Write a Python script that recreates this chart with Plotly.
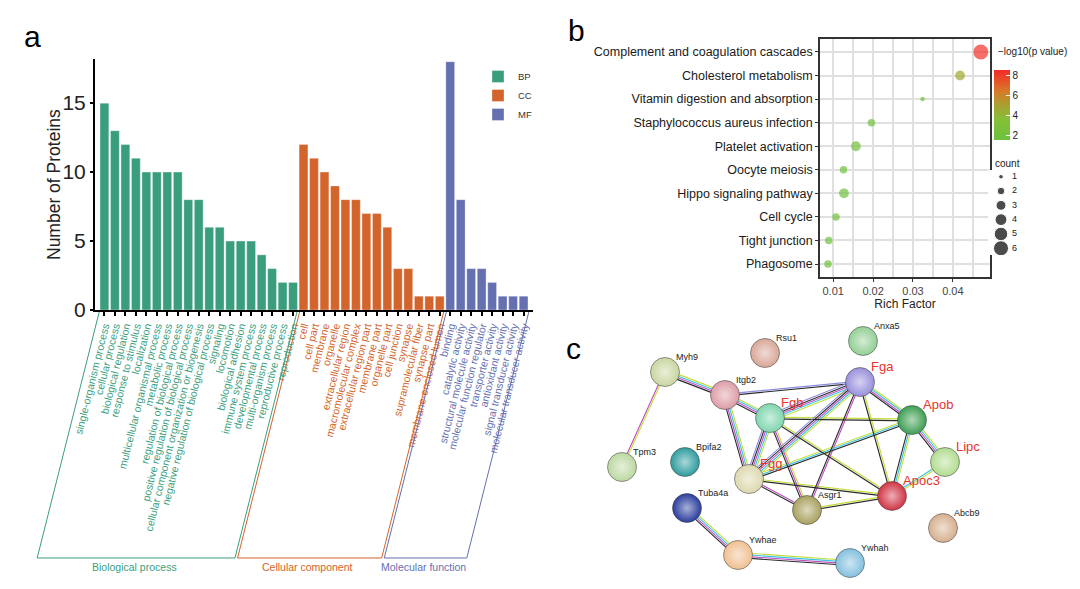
import numpy as np
import plotly.graph_objects as go

W, H = 1080, 589

# ---------------- Panel a : GO classification ----------------
bp_terms = ["single-organism process", "cellular process", "biological regulation",
            "response to stimulus", "localization", "multicellular organismal process",
            "metabolic process", "regulation of biological process",
            "positive regulation of biological process",
            "cellular component organization or biogenesis",
            "negative regulation of biological process", "signaling", "locomotion",
            "biological adhesion", "immune system process", "developmental process",
            "multi-organism process", "reproductive process", "reproduction"]
bp_counts = [15, 13, 12, 11, 10, 10, 10, 10, 8, 8, 6, 6, 5, 5, 5, 4, 3, 2, 2]

cc_terms = ["cell", "cell part", "membrane", "organelle", "extracellular region",
            "macromolecular complex", "extracellular region part", "membrane part",
            "organelle part", "cell junction", "synapse", "supramolecular fiber",
            "synapse part", "membrane-enclosed lumen"]
cc_counts = [12, 11, 10, 9, 8, 8, 7, 7, 6, 3, 3, 1, 1, 1]

mf_terms = ["binding", "catalytic activity", "structural molecule activity",
            "molecular function regulator", "transporter activity", "antioxidant activity",
            "signal transducer activity", "molecular transducer activity"]
mf_counts = [18, 8, 3, 3, 2, 1, 1, 1]

group_names = ["BP", "CC", "MF"]
group_titles = ["Biological process", "Cellular component", "Molecular function"]
group_colors = ["#3a9e7e", "#d2642c", "#6570b0"]

# ---------------- Panel b : KEGG enrichment ----------------
kegg_terms = ["Complement and coagulation cascades", "Cholesterol metabolism",
              "Vitamin digestion and absorption", "Staphylococcus aureus infection",
              "Platelet activation", "Oocyte meiosis", "Hippo signaling pathway",
              "Cell cycle", "Tight junction", "Phagosome"]
rich_factor = [0.0470, 0.0418, 0.0324, 0.0196, 0.0157, 0.0126, 0.0127, 0.0107, 0.0089, 0.0087]
neg_log_p = [8.3, 4.6, 2.3, 2.0, 2.1, 1.9, 1.9, 1.8, 1.7, 1.7]
gene_count = [6, 3, 1, 2, 3, 2, 3, 2, 2, 2]
legend_counts = [1, 2, 3, 4, 5, 6]

# ---------------- Panel c : PPI network ----------------
node_names = ["Anxa5", "Rsu1", "Myh9", "Itgb2", "Fga", "Fgb", "Apob", "Lipc", "Tpm3",
              "Bpifa2", "Fgg", "Apoc3", "Asgr1", "Tuba4a", "Abcb9", "Ywhae", "Ywhah"]
node_x = [863, 765, 665, 725, 860, 770, 912, 945, 622, 685, 749, 892, 807, 687, 943, 738, 850]
node_y = [341, 353, 372, 395, 382, 418, 420, 462, 467, 462, 479, 496, 510, 508, 528, 555, 563]
node_colors = ["#93cf95", "#d8a696", "#c8d6a0", "#dc9ca6", "#9890dc", "#7fd6ae", "#3c9e52",
               "#b2dc90", "#bcd8a2", "#2e9c9e", "#dcd8ae", "#d03444", "#a8a05e", "#2a3c9c",
               "#d6b08e", "#f0c090", "#84c0de"]
highlighted = ["Fga", "Fgb", "Apob", "Lipc", "Fgg", "Apoc3"]

TM, DB, EX, CO, BL = "#c4de3a", "#3cc4e4", "#c04cc4", "#2a2a2a", "#8c8ce0"
edges = [
    ("Myh9", "Tpm3", [TM, EX]),
    ("Myh9", "Itgb2", [TM, DB, EX, CO]),
    ("Itgb2", "Fga", [BL, CO]),
    ("Itgb2", "Fgb", [TM, DB, EX, CO]),
    ("Itgb2", "Fgg", [TM, DB, EX, CO]),
    ("Fga", "Fgb", [TM, DB, EX, CO, BL]),
    ("Fga", "Fgg", [TM, DB, EX, CO, BL]),
    ("Fga", "Apob", [TM, DB, EX, CO]),
    ("Fga", "Asgr1", [EX, CO]),
    ("Fga", "Apoc3", [TM, CO]),
    ("Fgb", "Fgg", [TM, DB, EX, CO, BL]),
    ("Fgb", "Apob", [TM, CO]),
    ("Fgb", "Asgr1", [TM, EX, CO]),
    ("Fgb", "Apoc3", [TM, CO]),
    ("Fgg", "Apob", [TM, DB, CO]),
    ("Fgg", "Asgr1", [EX, CO]),
    ("Fgg", "Apoc3", [TM, CO]),
    ("Apob", "Apoc3", [TM, DB, CO]),
    ("Apob", "Lipc", [TM, DB, EX, CO]),
    ("Lipc", "Apoc3", [TM, DB]),
    ("Asgr1", "Apoc3", [TM, CO]),
    ("Tuba4a", "Ywhae", [TM, DB, EX, CO]),
    ("Ywhae", "Ywhah", [TM, DB, EX, CO]),
]

FONT = "Liberation Sans, Arial, sans-serif"


def px(xp):
    return xp / W


def py(yp):
    return 1 - yp / H


fig = go.Figure()

# ---- panel a bars ----
all_terms = bp_terms + cc_terms + mf_terms
groups = [(bp_terms, bp_counts), (cc_terms, cc_counts), (mf_terms, mf_counts)]
start = 0
bounds = []
tick_text = []
for (terms, counts), name, col in zip(groups, group_names, group_colors):
    xs = list(range(start, start + len(terms)))
    fig.add_trace(go.Bar(x=xs, y=counts, name=name, marker=dict(color=col,
                         line=dict(color="rgba(255,255,255,0.55)", width=0.6)),
                         xaxis="x", yaxis="y", showlegend=True))
    tick_text += ['<span style="color:%s">%s</span>' % (col, t) for t in terms]
    bounds.append((start - 0.5, start + len(terms) - 0.5))
    start += len(terms)

n_bars = len(all_terms)
xa_range = [-0.9, n_bars - 0.1]
xa_dom = [95, 533]


def xa_px(v):
    return xa_dom[0] + (v - xa_range[0]) / (xa_range[1] - xa_range[0]) * (xa_dom[1] - xa_dom[0])


# brackets
top_y, bot_y, shift = 312, 558, 62
shapes = []
annotations = []
for i, ((lo, hi), col, title) in enumerate(zip(bounds, group_colors, group_titles)):
    lt = xa_px(lo) + (1.3 if i > 0 else 0)
    rt = xa_px(hi) - (1.3 if i < 2 else 0)
    path = "M %f,%f L %f,%f L %f,%f L %f,%f" % (
        px(lt), py(top_y), px(lt - shift), py(bot_y), px(rt - shift), py(bot_y), px(rt), py(top_y))
    shapes.append(dict(type="path", path=path, xref="paper", yref="paper",
                       line=dict(color=col, width=1)))
    annotations.append(dict(x=px((lt + rt) / 2 - shift - 2), y=py(567), xref="paper", yref="paper",
                            text=title, showarrow=False, font=dict(size=10.5, color=col, family=FONT),
                            xanchor="center", yanchor="middle"))

annotations.append(dict(x=px(54), y=py(185), xref="paper", yref="paper", text="Number of Proteins",
                        textangle=-90, showarrow=False,
                        font=dict(size=17.5, family=FONT, color="#222"),
                        xanchor="center", yanchor="middle"))

# ---- panel b dots ----
def dot_size(c):
    return 7.24 * np.sqrt(np.asarray(c, dtype=float)) - 2.7


cscale = [[0.0, "#6cc23e"], [0.3, "#86bf38"], [0.5, "#aaa030"], [0.7, "#d8782a"], [1.0, "#f42a26"]]
fig.add_trace(go.Scatter(
    x=rich_factor, y=list(range(len(kegg_terms))), mode="markers", xaxis="x2", yaxis="y2",
    showlegend=False,
    marker=dict(size=dot_size(gene_count), color=neg_log_p, colorscale=cscale, cmin=1.5, cmax=8.5,
                line=dict(width=0),
                colorbar=dict(x=px(994), xanchor="left", y=py(105), yanchor="middle",
                              len=70 / H, lenmode="fraction", thickness=16, outlinewidth=0,
                              xpad=0, ypad=0, tickvals=[2, 4, 6, 8], ticks="inside",
                              tickcolor="white", ticklen=4,
                              tickfont=dict(size=10, family=FONT, color="#222")))))

# size legend
fig.add_trace(go.Scatter(x=[13] * len(legend_counts), y=legend_counts, mode="markers",
                         xaxis="x3", yaxis="y3", showlegend=False,
                         marker=dict(size=dot_size(legend_counts), color="black")))
fig.add_trace(go.Scatter(x=[24] * len(legend_counts), y=legend_counts, mode="text",
                         text=[str(c) for c in legend_counts], textposition="middle right",
                         xaxis="x3", yaxis="y3", showlegend=False,
                         textfont=dict(size=9, family=FONT, color="#222")))

# ---- panel c network ----
idx = {n: i for i, n in enumerate(node_names)}
seg = {}
for a, b, cols in edges:
    x0, y0 = node_x[idx[a]], node_y[idx[a]]
    x1, y1 = node_x[idx[b]], node_y[idx[b]]
    d = np.hypot(x1 - x0, y1 - y0)
    nx, ny = -(y1 - y0) / d, (x1 - x0) / d
    k = len(cols)
    for j, c in enumerate(cols):
        off = (j - (k - 1) / 2) * 1.7
        seg.setdefault(c, ([], []))
        seg[c][0].extend([x0 + nx * off, x1 + nx * off, None])
        seg[c][1].extend([y0 + ny * off, y1 + ny * off, None])
for c, (sx, sy) in seg.items():
    fig.add_trace(go.Scatter(x=sx, y=sy, mode="lines", line=dict(color=c, width=1.1),
                             xaxis="x4", yaxis="y4", showlegend=False, hoverinfo="skip"))


def lighten(hexc, f=0.6):
    r, g, b = int(hexc[1:3], 16), int(hexc[3:5], 16), int(hexc[5:7], 16)
    r, g, b = [int(v + (255 - v) * f) for v in (r, g, b)]
    return "#%02x%02x%02x" % (r, g, b)


fig.add_trace(go.Scatter(x=node_x, y=node_y, mode="markers", xaxis="x4", yaxis="y4",
                         showlegend=False,
                         marker=dict(size=29, color=node_colors,
                                     gradient=dict(type="radial",
                                                   color=[lighten(c) for c in node_colors]),
                                     line=dict(color="rgba(70,70,70,0.55)", width=1))))
lab_x = [x + 11 for x in node_x]
lab_y = [y - 14 for y in node_y]
fig.add_trace(go.Scatter(
    x=lab_x, y=lab_y, mode="text", text=node_names, textposition="middle right",
    xaxis="x4", yaxis="y4", showlegend=False,
    textfont=dict(family=FONT,
                  size=[13 if n in highlighted else 9 for n in node_names],
                  color=["#e8342c" if n in highlighted else "#222" for n in node_names])))

# panel letters and colorbar / size legend titles
for t, xx, yy in [("a", 32, 36), ("b", 576, 30), ("c", 573, 348)]:
    annotations.append(dict(x=px(xx), y=py(yy), xref="paper", yref="paper", text=t,
                            showarrow=False, font=dict(size=30, family=FONT, color="black"),
                            xanchor="center", yanchor="middle"))
annotations.append(dict(x=px(996), y=py(52), xref="paper", yref="paper", text="\u2212log10(p value)",
                        showarrow=False, font=dict(size=10, family=FONT, color="#222"),
                        xanchor="left", yanchor="middle"))
annotations.append(dict(x=px(993), y=py(163), xref="paper", yref="paper", text="count",
                        showarrow=False, font=dict(size=10, family=FONT, color="#222"),
                        xanchor="left", yanchor="middle"))

grid = "#e0e0e0"
fig.update_layout(
    width=W, height=H, margin=dict(l=0, r=0, t=0, b=0, autoexpand=False),
    paper_bgcolor="white", plot_bgcolor="white",
    font=dict(family=FONT, color="black"),
    bargap=0.16,
    shapes=shapes, annotations=annotations,
    legend=dict(x=px(478), y=py(62), xanchor="left", yanchor="top",
                font=dict(size=9.5, family=FONT, color="#333"), bgcolor="rgba(0,0,0,0)",
                itemwidth=30, tracegroupgap=0),
    xaxis=dict(domain=[px(xa_dom[0]), px(xa_dom[1])], range=xa_range, anchor="y",
               automargin=False,
               tickmode="array", tickvals=list(range(n_bars)), ticktext=tick_text,
               tickangle=-76, tickfont=dict(size=10.5, family=FONT),
               ticks="outside", ticklen=4, tickwidth=1.5, tickcolor="black",
               showline=True, linewidth=2, linecolor="black", showgrid=False, zeroline=False),
    yaxis=dict(domain=[py(310), py(59)], range=[0, 18.2], anchor="x", automargin=False,
               tickvals=[0, 5, 10, 15], tickfont=dict(size=21, family=FONT, color="#222"),
               ticks="outside", ticklen=3, tickwidth=1.5, tickcolor="black",
               showline=True, linewidth=2, linecolor="black", showgrid=False, zeroline=False),
    xaxis2=dict(domain=[px(820), px(990)], range=[0.0067, 0.0493], anchor="y2", automargin=False,
                tick0=0, dtick=0.01, tickformat=".2f", showgrid=True, gridcolor=grid, gridwidth=2,
                minor=dict(tick0=0, dtick=0.005, showgrid=True, gridcolor=grid, gridwidth=1.6,
                           ticks=""),
                ticks="outside", ticklen=3, tickcolor="#333", tickwidth=1,
                showline=True, mirror=True, linewidth=1.6, linecolor="#333", zeroline=False,
                tickfont=dict(size=11, family=FONT, color="#444"),
                title=dict(text="Rich Factor", font=dict(size=12, family=FONT, color="#222"),
                           standoff=2)),
    yaxis2=dict(domain=[py(277), py(39)], range=[len(kegg_terms) - 0.45, -0.55], anchor="x2",
                automargin=False,
                tickmode="array", tickvals=list(range(len(kegg_terms))), ticktext=kegg_terms,
                showgrid=True, gridcolor=grid, gridwidth=2,
                ticks="outside", ticklen=3, tickcolor="#333", tickwidth=1,
                showline=True, mirror=True, linewidth=1.6, linecolor="#333", zeroline=False,
                tickfont=dict(size=12.5, family=FONT, color="#1a1a1a")),
    xaxis3=dict(domain=[px(988), px(1035)], range=[0, 47], anchor="y3", visible=False,
                automargin=False),
    yaxis3=dict(domain=[py(255), py(170)], range=[6.47, 0.53], anchor="x3", visible=False,
                automargin=False),
    xaxis4=dict(domain=[px(590), px(1040)], range=[590, 1040], anchor="y4", visible=False,
                automargin=False),
    yaxis4=dict(domain=[0, py(320)], range=[589, 320], anchor="x4", visible=False,
                automargin=False),
)

fig.write_html("out.html", config={"displayModeBar": False},
               post_script="document.body.style.margin='0';")
